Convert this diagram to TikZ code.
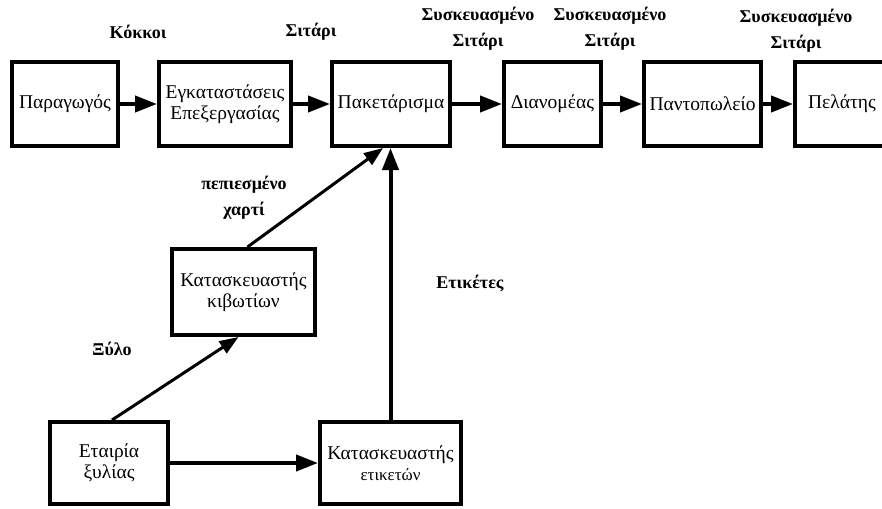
\documentclass[tikz,border=0pt]{standalone}
\usepackage{fontspec}
\setmainfont{Liberation Serif}
\usetikzlibrary{arrows.meta}
\begin{document}
\begin{tikzpicture}[x=1pt,y=-1pt,
  box/.style={draw,line width=4pt,inner sep=0pt,align=center,
    font=\fontsize{19.5}{21}\selectfont,minimum height=84pt},
  lowbox/.style={box,minimum height=82pt},
  lbl/.style={align=center,font=\fontsize{18}{26}\selectfont\bfseries},
  flow/.style={line width=4pt,-{Triangle[length=22pt,width=16pt]}},
  thin flow/.style={line width=3pt,-{Triangle[length=19pt,width=14pt]}}]
\useasboundingbox (0,0) rectangle (882,508);
\clip (0,0) rectangle (882,508);

% supply chain, top row
\node[box,minimum width=106pt] (prod) at (65,104) {Παραγωγός};
\node[box,minimum width=132pt] (proc) at (225,104) {Εγκαταστάσεις\\Επεξεργασίας};
\node[box,minimum width=118pt] (pack) at (391,104) {Πακετάρισμα};
\node[box,minimum width=97pt] (dist) at (552.5,104) {Διανομέας};
\node[box,minimum width=117pt] (shop) at (702.5,104) {Παντοπωλείο};
\node[box,minimum width=94pt] (cust) at (842,104) {Πελάτης};

% suppliers
\node[box,minimum width=143pt,minimum height=86pt] (boxmk) at (243.5,292) {Κατασκευαστής\\κιβωτίων};
\node[lowbox,minimum width=118pt] (wood) at (109,463) {Εταιρία\\ξυλίας};
\node[lowbox,minimum width=141pt] (labmk) at (390.5,463) {Κατασκευαστής\\{\fontsize{17}{21}\selectfont ετικετών}};

% flow labels
\node[lbl] (l1) at (138,32) {Κόκκοι};
\node[lbl] (l2) at (311,32) {Σιτάρι};
\node[lbl] (l3) at (478,29) {Συσκευασμένο\\Σιτάρι};
\node[lbl] (l4) at (610,29) {Συσκευασμένο\\Σιτάρι};
\node[lbl] (l5) at (796,31) {Συσκευασμένο\\Σιτάρι};
\node[lbl] (l6) at (244,198) {πεπιεσμένο\\χαρτί};
\node[lbl] (l7) at (470,284) {Ετικέτες};
\node[lbl] (l8) at (112,349) {Ξύλο};

% connectors
\draw[flow] (prod) -- (proc);
\draw[flow] (proc) -- (pack);
\draw[flow] (pack) -- (dist);
\draw[flow] (dist) -- (shop);
\draw[flow] (shop) -- (cust);
\draw[flow] (labmk.north) -- (labmk.north |- pack.south);
\draw[thin flow] ([xshift=4pt]boxmk.north) -- ([xshift=-8pt]pack.south);
\draw[thin flow] ([xshift=3pt]wood.north) -- ([xshift=-5pt]boxmk.south);
\draw[flow] (wood) -- (labmk);
\end{tikzpicture}
\end{document}
